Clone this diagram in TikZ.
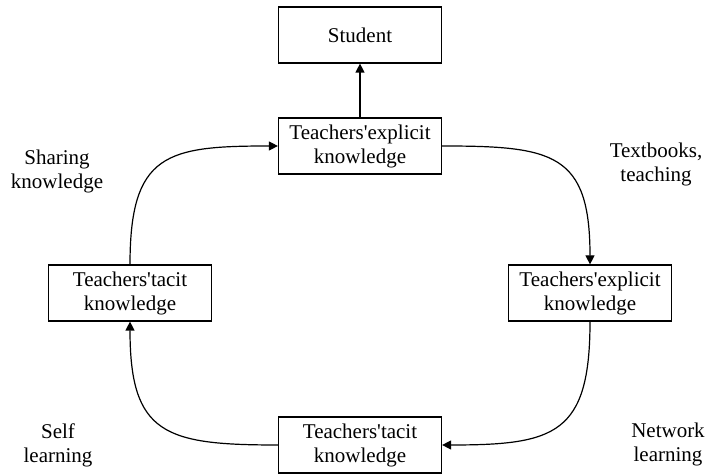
\documentclass[tikz,border=0pt]{standalone}
\usepackage{fontspec}
\setmainfont{Liberation Serif}
\usetikzlibrary{arrows.meta}

\begin{document}
\begin{tikzpicture}[x=0.5pt, y=0.5pt, >={Triangle[length=4.5pt, width=4.5pt]}, semithick]
            \tikzset{
                box/.style={draw, minimum width=81.5pt, minimum height=28pt, inner sep=0pt, align=center, font=\fontsize{10.5}{12}\selectfont},
                note/.style={align=center, font=\fontsize{10.5}{12}\selectfont}
            };
            \useasboundingbox (0, 0) rectangle (706, 475);
            \node[box] (student) at (360, 440) {Student};
            \node[box] (topexp) at (360, 329) {Teachers\textquotesingle explicit\\knowledge};
            \node[box] (lefttac) at (130, 182) {Teachers\textquotesingle tacit\\knowledge};
            \node[box] (rightexp) at (590, 182) {Teachers\textquotesingle explicit\\knowledge};
            \node[box] (bottac) at (360, 30) {Teachers\textquotesingle tacit\\knowledge};
            \node[note] (sharing) at (57, 304) {Sharing\\knowledge};
            \node[note] (textbooks) at (656, 311) {Textbooks,\\teaching};
            \node[note] (self) at (58, 30) {Self\\learning};
            \node[note] (network) at (668, 31) {Network\\learning};
            \draw[->] (topexp) -- (student);
            \draw[->] (topexp.east) to[out=0, in=90, looseness=1.5] (rightexp.north);
            \draw[->] (rightexp.south) to[out=-90, in=0, looseness=1.5] (bottac.east);
            \draw[->] (bottac.west) to[out=180, in=-90, looseness=1.5] (lefttac.south);
            \draw[->] (lefttac.north) to[out=90, in=180, looseness=1.5] (topexp.west);
        \end{tikzpicture}
\end{document}
